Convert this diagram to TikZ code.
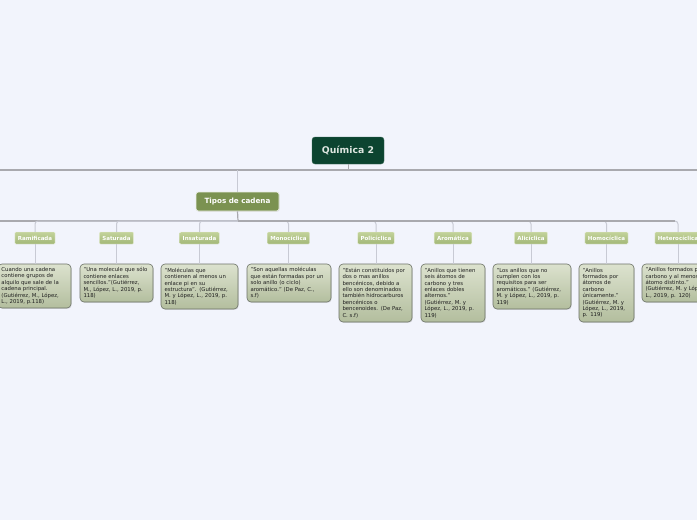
\documentclass[tikz,border=0pt]{standalone}
\usepackage{fontspec}
\setmainfont{DejaVu Sans}
\usetikzlibrary{shadows}
\definecolor{bgcol}{HTML}{F2F4FC}
\definecolor{rootfill}{HTML}{0C4430}
\definecolor{rootdraw}{HTML}{3A6A56}
\definecolor{roottext}{HTML}{DDE6E0}
\definecolor{tipofill}{HTML}{7B9251}
\definecolor{labtop}{HTML}{C3D39B}
\definecolor{labbot}{HTML}{A2B777}
\definecolor{boxtop}{HTML}{DCE2CE}
\definecolor{boxbot}{HTML}{B3BE9E}
\definecolor{boxdraw}{HTML}{6B7166}
\definecolor{trunkcol}{HTML}{A9A9AE}
\definecolor{branchcol}{HTML}{C8CAD4}
\tikzset{
  rootbox/.style={draw=rootdraw, fill=rootfill, rounded corners=3pt, minimum width=72pt, minimum height=27pt, inner sep=0pt, text=roottext, font=\fontsize{9.3}{10}\selectfont\bfseries},
  tipobox/.style={draw=white!85!tipofill, line width=0.6pt, fill=tipofill, rounded corners=2.5pt, minimum width=83pt, minimum height=19pt, inner sep=0pt, text=white, font=\fontsize{7.2}{8}\selectfont\bfseries, drop shadow={opacity=0.15, shadow xshift=0.6pt, shadow yshift=-0.8pt}},
  labbox/.style={draw=white!70!labtop, line width=0.4pt, top color=labtop, bottom color=labbot, rounded corners=1pt, minimum height=12pt, inner xsep=3pt, inner ysep=0pt, text=white, font=\fontsize{5.5}{6}\selectfont\bfseries},
  textbox/.style={draw=boxdraw, line width=0.6pt, top color=boxtop, bottom color=boxbot, rounded corners=4pt, inner xsep=3.5pt, inner ysep=2pt, align=left, text=black!88, font=\fontsize{5.35}{6.4}\selectfont, drop shadow={opacity=0.18, shadow xshift=0.8pt, shadow yshift=-0.9pt}},
  trunk/.style={draw=trunkcol, line width=1.6pt},
  branch/.style={draw=branchcol, line width=1pt, rounded corners=3pt},
  leaf/.style={draw=branchcol, line width=1pt}
}
\begin{document}
\begin{tikzpicture}[x=1pt,y=-1pt]
\useasboundingbox (0,0) rectangle (697,520);
\fill[bgcol] (0,0) rectangle (697,520);
\clip (0,0) rectangle (697,520);

% coordinates for trunk ends
\coordinate (tl) at (0,170);
\coordinate (tr) at (697,170);
\coordinate (hl) at (0,221);
\coordinate (hj) at (238,221);

% root and first level
\node[rootbox] (root) at (348,150.5) {Química 2};
\node[tipobox] (tipos) at (237.5,201.5) {Tipos de cadena};

% labels
\node[labbox] (ram) at (35,238) {Ramificada};
\node[labbox] (sat) at (116.5,238) {Saturada};
\node[labbox] (ins) at (199.5,238) {Insaturada};
\node[labbox] (mon) at (288.5,238) {Monocíclica};
\node[labbox] (pol) at (376,238) {Policíclica};
\node[labbox] (aro) at (453,238) {Aromática};
\node[labbox] (ali) at (531,238) {Alicíclica};
\node[labbox] (hom) at (606.5,238) {Homocíclica};
\node[labbox] (het) at (678,238) {Heterocíclica};

% connectors
\draw[trunk] (tl) -- (tr);
\draw[trunk, line width=1pt] (root.south) -- (root.south |- tl);
\draw[leaf, line width=1.2pt] (tipos.north |- tl) -- (tipos.north);
\draw[trunk, line width=1.2pt] (tipos.south) -- (hj);
\draw[trunk] (hl) -- (hj);
\foreach \n in {ram,sat,ins,mon,pol,aro,ali,hom,het}{
  \draw[branch] (hj) -| (\n.north);
}
\draw[trunk] (hj) -- (675,221);

% text boxes
\node[textbox, text width=66pt, minimum height=44pt] (tram) at (34.5,286) {Cuando una cadena\\contiene grupos de\\alquilo que sale de la\\cadena principal.\\(Gutiérrez, M., López,\\L., 2019, p.118)};
\node[textbox, text width=66pt, minimum height=38pt] (tsat) at (116.5,283) {"Una molecule que sólo\\contiene enlaces\\sencillos."(Gutiérrez,\\M., López, L., 2019, p.\\118)};
\node[textbox, text width=70pt, minimum height=45pt] (tins) at (199.5,286.5) {"Moléculas que\\contienen al menos un\\enlace pi en su\\estructura". (Gutiérrez,\\M. y López, L., 2019, p.\\118)};
\node[textbox, text width=77pt, minimum height=38pt] (tmon) at (289,283) {"Son aquellas moléculas\\que están formadas por un\\solo anillo (o ciclo)\\aromático." (De Paz, C.,\\s.f)};
\node[textbox, text width=66pt, minimum height=58pt] (tpol) at (375.5,293) {"Están constituidos por\\dos o mas anillos\\bencénicos, debido a\\ello son denominados\\también hidrocarburos\\bencénicos o\\bencenoides. (De Paz,\\C. s.f)};
\node[textbox, text width=57pt, minimum height=58pt] (taro) at (453,293) {"Anillos que tienen\\seis átomos de\\carbono y tres\\enlaces dobles\\alternos."\\(Gutiérrez, M. y\\López, L., 2019, p.\\119)};
\node[textbox, text width=71pt, minimum height=45pt] (tali) at (532,286.5) {"Los anillos que no\\cumplen con los\\requisitos para ser\\aromáticos." (Gutiérrez,\\M. y López, L., 2019, p.\\119)};
\node[textbox, text width=48pt, minimum height=58pt] (thom) at (606.5,293) {"Anillos\\formados por\\átomos de\\carbono\\únicamente."\\(Gutiérrez, M. y\\López, L., 2019,\\p. 119)};
\node[textbox, text width=71pt, minimum height=38pt] (thet) at (681,283) {"Anillos formados por\\carbono y al menos un\\átomo distinto."\\(Gutiérrez, M. y López,\\L., 2019, p. 120)};

\foreach \a/\b in {ram/tram,sat/tsat,ins/tins,mon/tmon,pol/tpol,aro/taro,ali/tali,hom/thom,het/thet}{
  \draw[leaf] (\a.south) -- (\a.south |- \b.north);
}
\end{tikzpicture}
\end{document}
